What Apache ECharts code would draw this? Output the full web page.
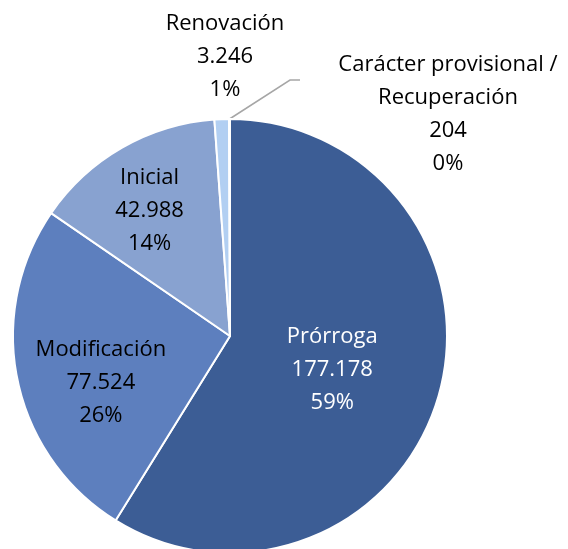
<!DOCTYPE html>
<html>
<head>
<meta charset="utf-8">
<script src="https://cdn.jsdelivr.net/npm/echarts@6/dist/echarts.min.js"></script>
<style>
  html, body { margin: 0; padding: 0; background: #fff; }
  #chart { width: 568px; height: 549px; }
</style>
</head>
<body>
<div id="chart"></div>
<script>
// data
const categories = ['Prórroga', 'Modificación', 'Inicial', 'Renovación', 'Carácter provisional / Recuperación']
const values = [177178, 77524, 42988, 3246, 204]
const colors = ['#3C5D95', '#5D7FBE', '#88A2D0', '#B2CFF2', '#A9C4EB']

const fmtNum = (v) => String(v).replace(/\B(?=(\d{3})+(?!\d))/g, '.')

const chart = echarts.init(document.getElementById('chart'), null, { renderer: 'canvas' })

// nudges for the labels so they sit where the original has them
const insideShift = [[-5, 3], [-20, 24], [-25, -29]]
const outsidePos = { 3: [225, 57], 4: [448, 114] }

const options = {
  animation: false,
  series: [
    {
      type: 'pie',
      center: [230, 336],
      radius: 217,
      startAngle: 90,
      clockwise: true,
      avoidLabelOverlap: false,
      itemStyle: { borderColor: '#fff', borderWidth: 2 },
      label: {
        show: true,
        position: 'inside',
        fontFamily: 'Open Sans',
        fontSize: 22,
        lineHeight: 33,
        color: '#000',
        align: 'center',
        formatter: (p) => p.name.replace(' / ', ' /\n') + '\n' + fmtNum(p.value) + '\n' + Math.round(p.percent) + '%'
      },
      labelLine: { show: false },
      labelLayout: (params) => {
        const i = params.dataIndex
        if (outsidePos[i]) {
          const out = { x: outsidePos[i][0], y: outsidePos[i][1], align: 'center', verticalAlign: 'middle' }
          if (i === 4 && params.labelLinePoints) {
            const pts = params.labelLinePoints
            pts[1] = [290, 80]
            pts[2] = [300, 80]
            out.labelLinePoints = pts
          }
          return out
        }
        return { dx: insideShift[i][0], dy: insideShift[i][1] }
      },
      data: categories.map((name, i) => {
        const item = { name: name, value: values[i], itemStyle: { color: colors[i] } }
        if (i === 0) item.label = { color: '#fff' }
        if (i >= 3) item.label = { position: 'outside' }
        if (i === 4) item.labelLine = { show: true, lineStyle: { color: '#A6A6A6', width: 1.5 } }
        return item
      })
    }
  ]
}

chart.setOption(options)
</script>
</body>
</html>
